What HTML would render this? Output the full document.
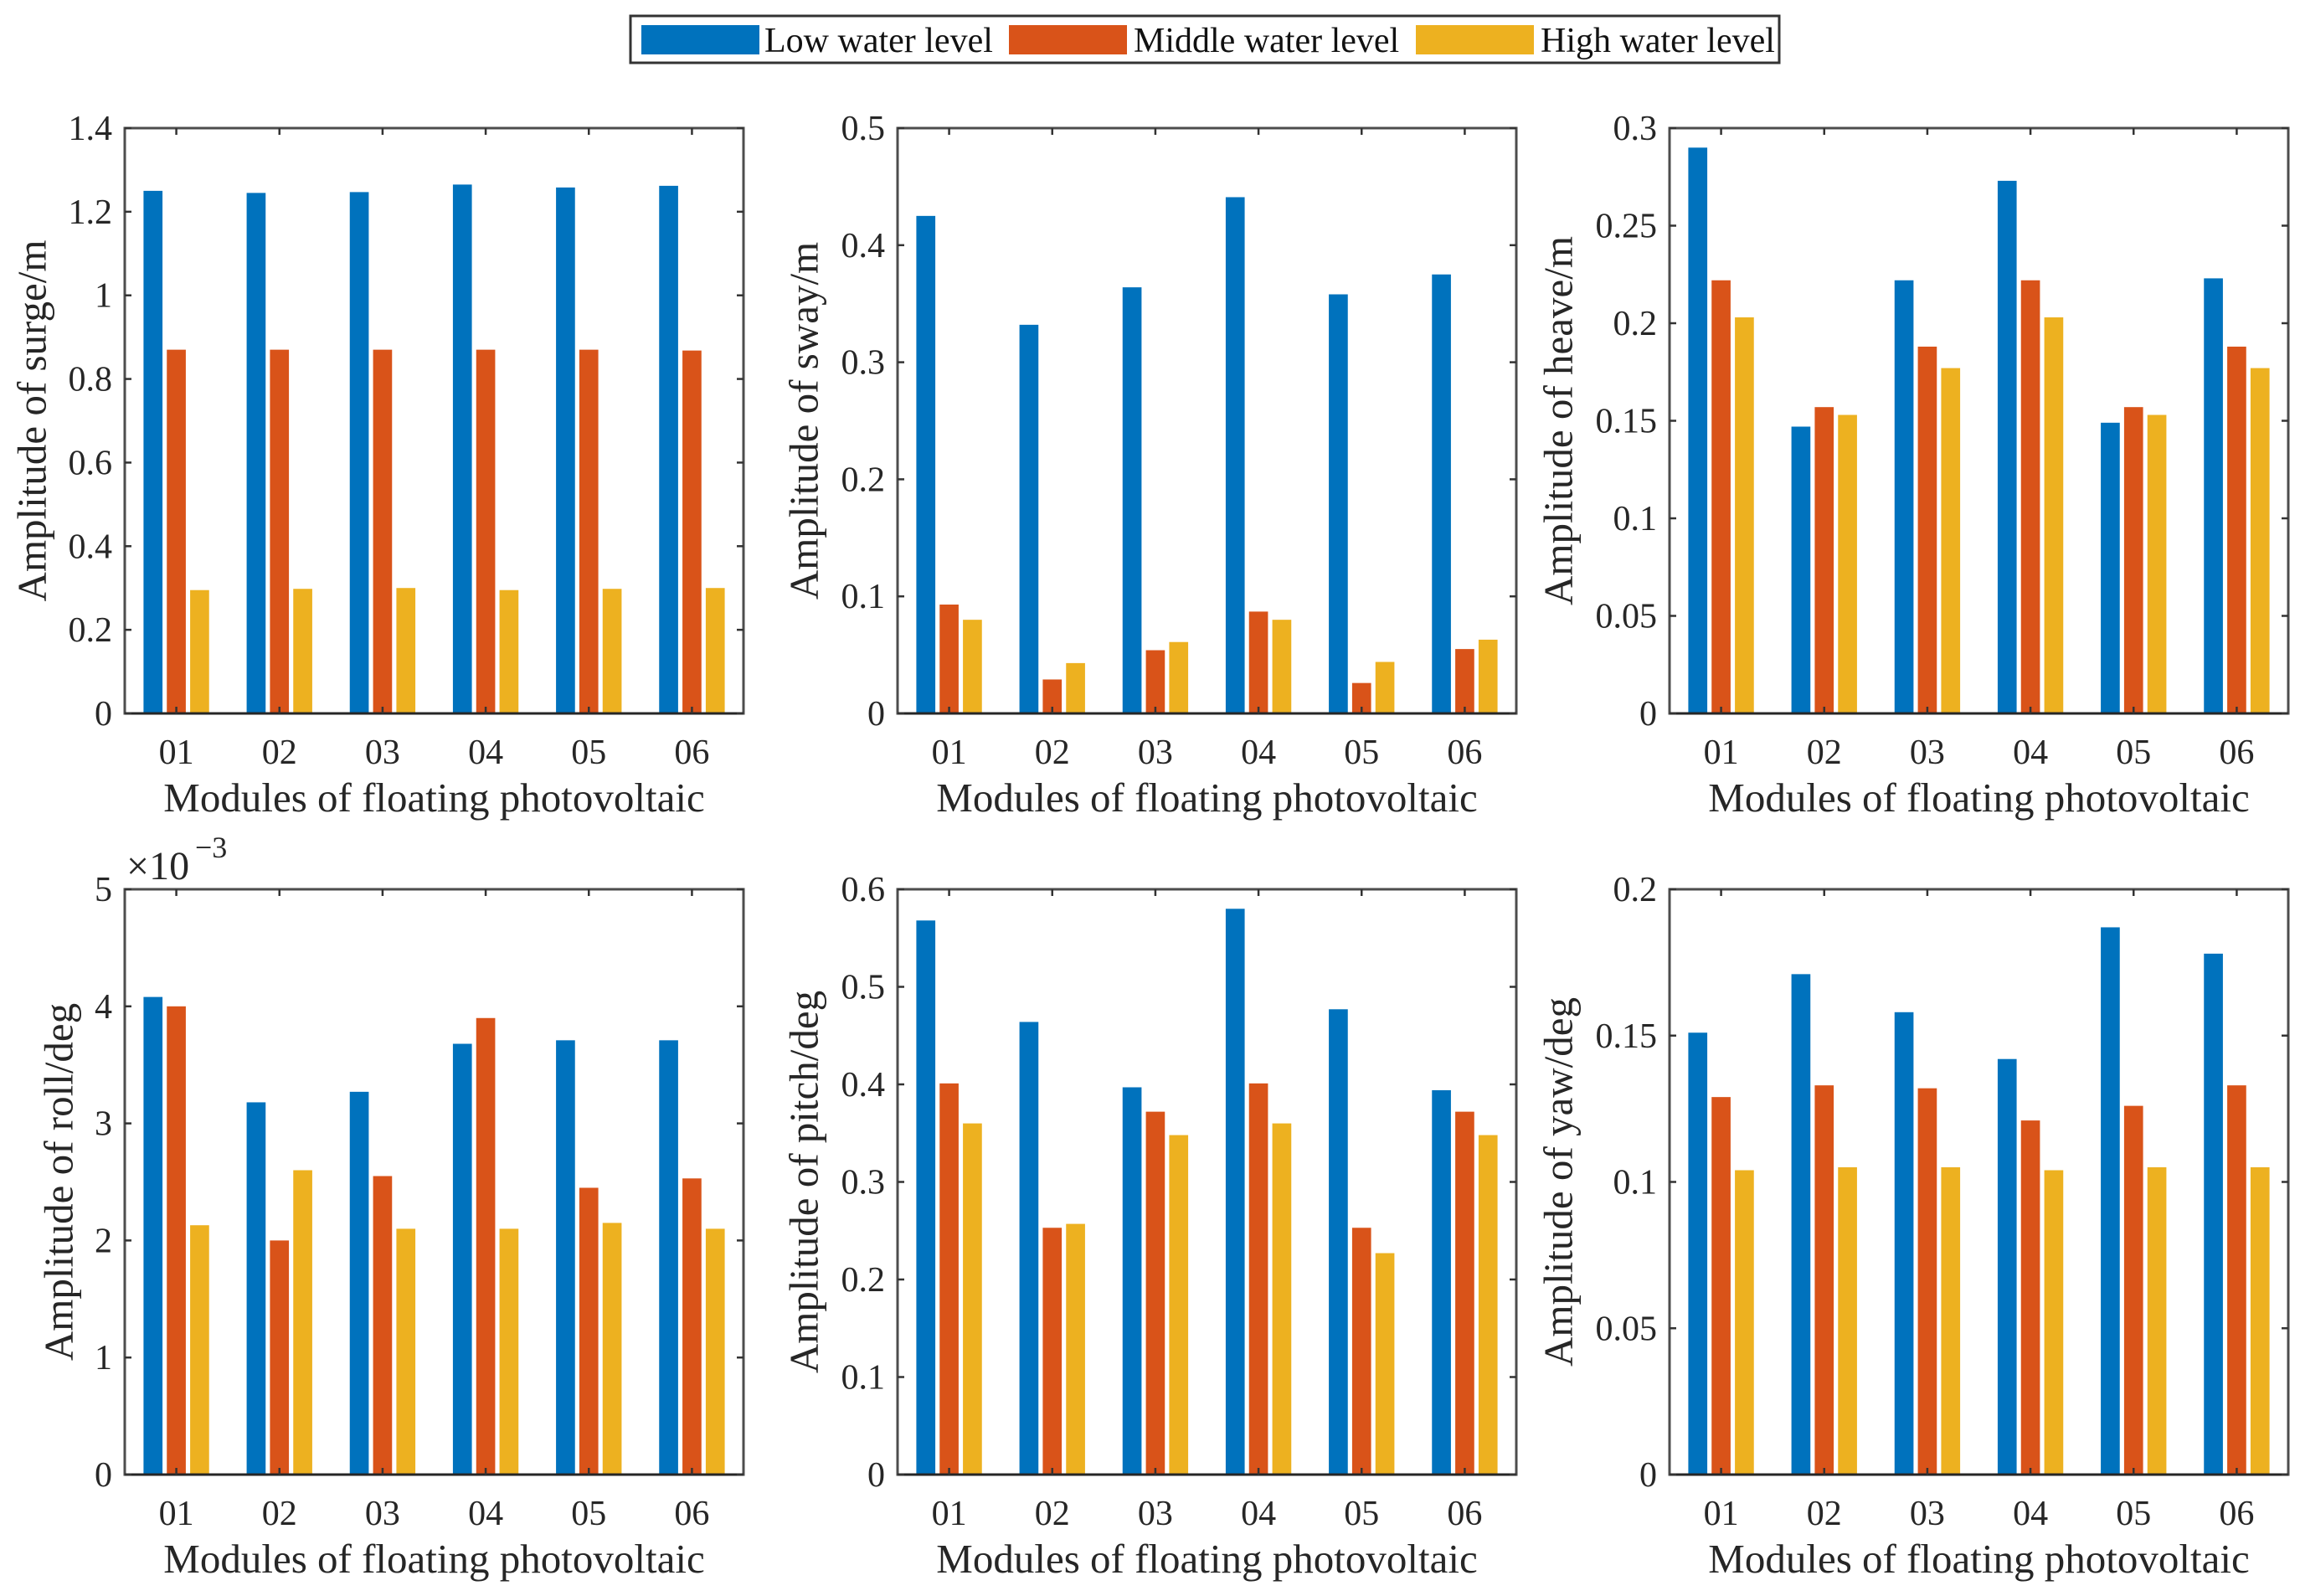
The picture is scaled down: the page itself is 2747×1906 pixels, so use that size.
<!DOCTYPE html>
<html><head><meta charset="utf-8"><style>
html,body{margin:0;padding:0;background:#fff;}
svg{display:block;font-family:"Liberation Serif","Times New Roman",serif;}
</style></head><body>
<svg id="fig" width="2747" height="1906" viewBox="0 0 2747 1906" xmlns="http://www.w3.org/2000/svg">
<g>
<rect x="753" y="19" width="1372" height="56" fill="#fff" stroke="#333" stroke-width="3"/>
<rect x="766" y="30" width="141" height="35" fill="#0072BD"/>
<text x="913" y="62" font-size="42" fill="#111">Low water level</text>
<rect x="1205" y="30" width="141" height="35" fill="#D95319"/>
<text x="1354" y="62" font-size="42" fill="#111">Middle water level</text>
<rect x="1691" y="30" width="141" height="35" fill="#EDB120"/>
<text x="1840" y="62" font-size="42" fill="#111">High water level</text>
</g>
</svg>
<script>
const categories = ["01","02","03","04","05","06"];
const surgeLow = [1.25,1.245,1.247,1.265,1.258,1.262];
const surgeMid = [0.87,0.87,0.87,0.87,0.87,0.868];
const surgeHigh = [0.295,0.298,0.3,0.295,0.298,0.3];
const swayLow = [0.425,0.332,0.364,0.441,0.358,0.375];
const swayMid = [0.093,0.029,0.054,0.087,0.026,0.055];
const swayHigh = [0.080,0.043,0.061,0.080,0.044,0.063];
const heaveLow = [0.29,0.147,0.222,0.273,0.149,0.223];
const heaveMid = [0.222,0.157,0.188,0.222,0.157,0.188];
const heaveHigh = [0.203,0.153,0.177,0.203,0.153,0.177];
const rollLow = [4.08,3.18,3.27,3.68,3.71,3.71];
const rollMid = [4.0,2.0,2.55,3.9,2.45,2.53];
const rollHigh = [2.13,2.6,2.1,2.1,2.15,2.1];
const pitchLow = [0.568,0.464,0.397,0.58,0.477,0.394];
const pitchMid = [0.401,0.253,0.372,0.401,0.253,0.372];
const pitchHigh = [0.36,0.257,0.348,0.36,0.227,0.348];
const yawLow = [0.151,0.171,0.158,0.142,0.187,0.178];
const yawMid = [0.129,0.133,0.132,0.121,0.126,0.133];
const yawHigh = [0.104,0.105,0.105,0.104,0.105,0.105];
const surgeTicks = ["0","0.2","0.4","0.6","0.8","1","1.2","1.4"];
const swayTicks = ["0","0.1","0.2","0.3","0.4","0.5"];
const heaveTicks = ["0","0.05","0.1","0.15","0.2","0.25","0.3"];
const rollTicks = ["0","1","2","3","4","5"];
const pitchTicks = ["0","0.1","0.2","0.3","0.4","0.5","0.6"];
const yawTicks = ["0","0.05","0.1","0.15","0.2"];

const NS = "http://www.w3.org/2000/svg";
const svg = document.getElementById("fig");
const colors = ["#0072BD","#D95319","#EDB120"];
const seriesNames = ["low","middle","high"];
function mk(tag, attrs, parent){
  const e = document.createElementNS(NS, tag);
  for (const k in attrs) e.setAttribute(k, attrs[k]);
  parent.appendChild(e);
  return e;
}
const panels = [
  {id:"surge", title:"Amplitude of surge/m", series:[surgeLow,surgeMid,surgeHigh], ticks:surgeTicks, x:149, y:153, tOff:111},
  {id:"sway", title:"Amplitude of sway/m", series:[swayLow,swayMid,swayHigh], ticks:swayTicks, x:1072, y:153, tOff:112},
  {id:"heave", title:"Amplitude of heave/m", series:[heaveLow,heaveMid,heaveHigh], ticks:heaveTicks, x:1994, y:153, tOff:133},
  {id:"roll", title:"Amplitude of roll/deg", series:[rollLow,rollMid,rollHigh], ticks:rollTicks, x:149, y:1062, tOff:79, exp:true},
  {id:"pitch", title:"Amplitude of pitch/deg", series:[pitchLow,pitchMid,pitchHigh], ticks:pitchTicks, x:1072, y:1062, tOff:112},
  {id:"yaw", title:"Amplitude of yaw/deg", series:[yawLow,yawMid,yawHigh], ticks:yawTicks, x:1994, y:1062, tOff:133}
];
const W = 739, H = 699;
panels.forEach(p => {
  const g = mk("g", {}, svg);
  
  
  const ymax = parseFloat(p.ticks[p.ticks.length-1]);
  const ys = v => p.y + H - v / ymax * H;
  const xs = c => p.x + (c - 0.5) / 6 * W;
  const bw = 0.184 / 6 * W, off = 0.226;
  p.series.forEach((s, si) => {
    s.forEach((v, ci) => {
      const cx = xs(ci + 1 + (si - 1) * off);
      const r = mk("rect", {x:cx - bw/2, y:ys(v), width:bw, height:ys(0)-ys(v), fill:colors[si]}, g);
      
      
    });
  });
  const ax = mk("rect", {x:p.x, y:p.y, width:W, height:H, fill:"none", stroke:"#4d4d4d", "stroke-width":3}, g);
  
  
  mk("line", {x1:p.x, y1:p.y+H, x2:p.x+W, y2:p.y+H, stroke:"#262626", "stroke-width":3}, g);
  p.ticks.forEach(t => {
    const y = ys(parseFloat(t));
    mk("line", {x1:p.x, y1:y, x2:p.x+8, y2:y, stroke:"#333", "stroke-width":2.5}, g);
    mk("line", {x1:p.x+W, y1:y, x2:p.x+W-8, y2:y, stroke:"#333", "stroke-width":2.5}, g);
    const tx = mk("text", {x:p.x-15, y:y+14, "font-size":42, "text-anchor":"end", fill:"#262626"}, g);
    tx.textContent = t;
    
    
  });
  categories.forEach((c, ci) => {
    const x = xs(ci + 1);
    mk("line", {x1:x, y1:p.y+H, x2:x, y2:p.y+H-8, stroke:"#333", "stroke-width":2.5}, g);
    mk("line", {x1:x, y1:p.y, x2:x, y2:p.y+8, stroke:"#333", "stroke-width":2.5}, g);
    const tx = mk("text", {x:x, y:p.y+H+60, "font-size":42, "text-anchor":"middle", fill:"#262626"}, g);
    tx.textContent = c;
    
    
  });
  const xt = mk("text", {x:p.x+W/2, y:p.y+H+117, "font-size":49, "text-anchor":"middle", fill:"#262626"}, g);
  xt.textContent = "Modules of floating photovoltaic";
  
  
  const tcx = p.x - p.tOff, tcy = p.y + H/2;
  const yt = mk("text", {x:tcx, y:tcy, "font-size":49, "text-anchor":"middle", "dominant-baseline":"central", transform:"rotate(-90 "+tcx+" "+tcy+")", fill:"#262626"}, g);
  yt.textContent = p.title;
  
  
  if (p.exp) {
    const e = mk("text", {x:p.x+2, y:p.y-12, "font-size":48, fill:"#262626"}, g);
    e.textContent = "×10";
    
    
    const s = mk("text", {x:p.x+84, y:p.y-38, "font-size":36, fill:"#262626"}, g);
    s.textContent = "−3";
    
    
  }
});
</script>
</body></html>
